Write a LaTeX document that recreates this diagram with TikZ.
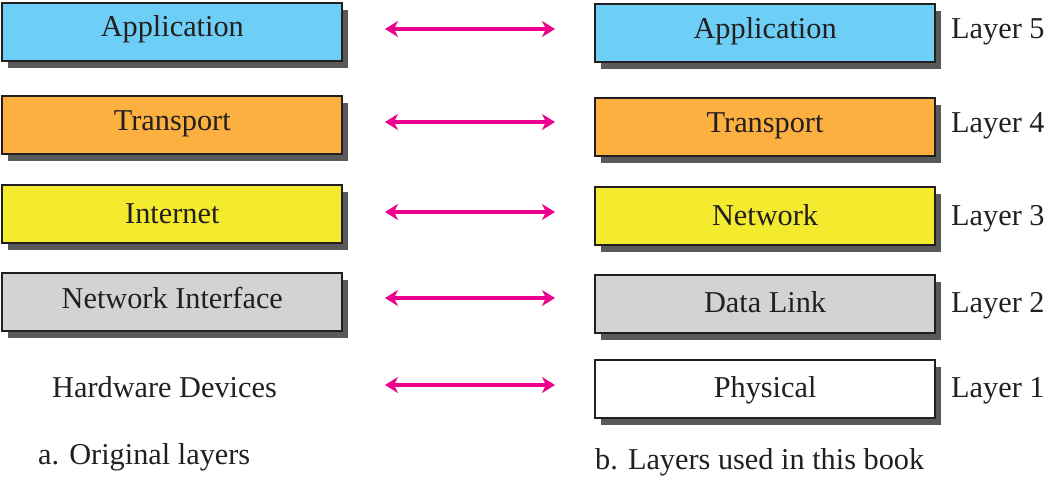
\documentclass[tikz,border=0pt]{standalone}
\usepackage{fontspec}
\setmainfont{Liberation Serif}
\usetikzlibrary{arrows.meta,shadows}

\definecolor{appblue}{HTML}{6DCFF6}
\definecolor{transorange}{HTML}{FBB040}
\definecolor{netyellow}{HTML}{F4EB2F}
\definecolor{linkgray}{HTML}{D1D3D4}
\definecolor{inkdark}{HTML}{231F20}
\definecolor{shadowgray}{HTML}{58595B}
\definecolor{peermagenta}{HTML}{EC008C}

\tikzset{
  layerbox/.style={draw=inkdark, line width=2.2pt, rectangle, inner sep=0pt,
    minimum width=340pt, minimum height=58pt, anchor=north west,
    general shadow={fill=shadowgray, shadow xshift=6pt, shadow yshift=-7pt}},
  lbl/.style={anchor=base, inner sep=0pt, text=inkdark,
    font=\fontsize{30.3}{35}\selectfont},
  peer/.style={draw=peermagenta, line width=3.8pt,
    {Stealth[length=13pt,width=16pt,inset=4pt]}-{Stealth[length=13pt,width=16pt,inset=4pt]}}
}

\begin{document}
\begin{tikzpicture}[x=1pt,y=-1pt]
  \useasboundingbox (0,0) rectangle (1045,479);

  % original (TCP/IP) stack
  \node[layerbox, fill=appblue]     (lapp) at (1.2,2)   {};
  \node[layerbox, fill=transorange] (ltra) at (1.2,95)  {};
  \node[layerbox, fill=netyellow]   (lint) at (1.2,184) {};
  \node[layerbox, fill=linkgray]    (lnif) at (1.2,272) {};

  \node[lbl] (tlapp) at ([yshift=-34pt]lapp.north) {Application};
  \node[lbl] (tltra) at ([yshift=-35pt]ltra.north) {Transport};
  \node[lbl] (tlint) at ([yshift=-39pt]lint.north) {Internet};
  \node[lbl] (tlnif) at ([yshift=-36pt]lnif.north) {Network Interface};
  \node[lbl] (lhw) at (164.5,397) {Hardware Devices};

  % five-layer stack
  \node[layerbox, fill=appblue]     (rapp) at (594,3)   {};
  \node[layerbox, fill=transorange] (rtra) at (594,97)  {};
  \node[layerbox, fill=netyellow]   (rnet) at (594,186) {};
  \node[layerbox, fill=linkgray]    (rdl)  at (594,274) {};
  \node[layerbox, fill=white]       (rphy) at (594,359) {};

  \node[lbl] (trapp) at ([yshift=-35pt]rapp.north) {Application};
  \node[lbl] (trtra) at ([yshift=-35pt]rtra.north) {Transport};
  \node[lbl] (trnet) at ([yshift=-39pt]rnet.north) {Network};
  \node[lbl] (trdl)  at ([yshift=-38pt]rdl.north)  {Data Link};
  \node[lbl] (trphy) at ([yshift=-38pt]rphy.north) {Physical};

  \node[lbl, anchor=base west] (l5) at (951,38)  {Layer 5};
  \node[lbl, anchor=base west] (l4) at (951,132) {Layer 4};
  \node[lbl, anchor=base west] (l3) at (951,225) {Layer 3};
  \node[lbl, anchor=base west] (l2) at (951,312) {Layer 2};
  \node[lbl, anchor=base west] (l1) at (951,397) {Layer 1};

  % captions
  \node[lbl, anchor=base west] (capa) at (38,464)  {a. Original layers};
  \node[lbl, anchor=base west] (capb) at (595,469) {b. Layers used in this book};

  % peer correspondence arrows
  \coordinate (a5l) at (385,29);  \coordinate (a5r) at (555,29);
  \coordinate (a4l) at (385,122); \coordinate (a4r) at (555,122);
  \coordinate (a3l) at (385,212); \coordinate (a3r) at (555,212);
  \coordinate (a2l) at (385,298); \coordinate (a2r) at (555,298);
  \coordinate (a1l) at (385,385); \coordinate (a1r) at (555,385);
  \draw[peer] (a5l) -- (a5r);
  \draw[peer] (a4l) -- (a4r);
  \draw[peer] (a3l) -- (a3r);
  \draw[peer] (a2l) -- (a2r);
  \draw[peer] (a1l) -- (a1r);
\end{tikzpicture}
\end{document}
